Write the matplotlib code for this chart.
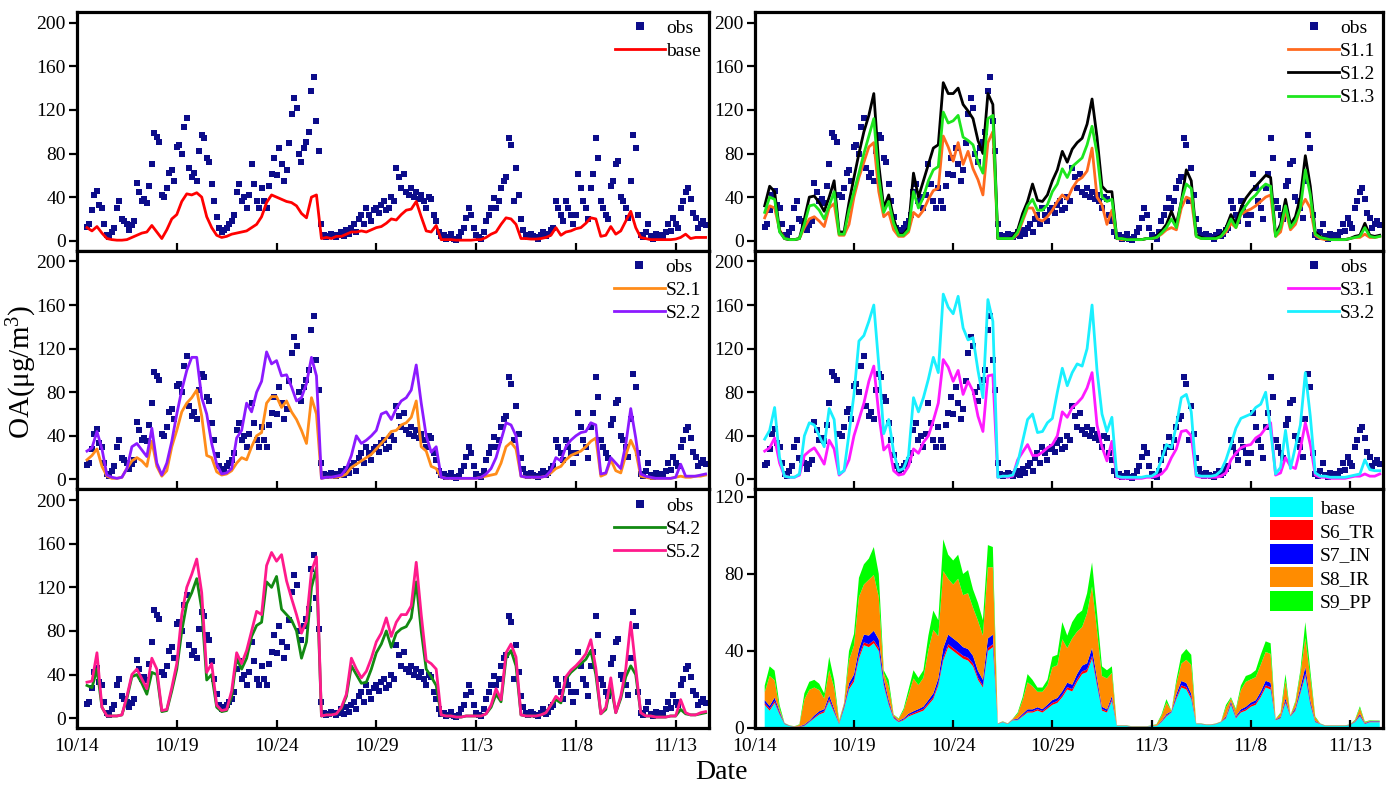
import numpy as np
import pandas as pd
import matplotlib
matplotlib.use('Agg')
import matplotlib.pyplot as plt
from matplotlib.lines import Line2D

plt.rcParams['font.family'] = ['Liberation Serif', 'DejaVu Serif']
plt.rcParams['mathtext.fontset'] = 'custom'
plt.rcParams['mathtext.rm'] = 'Liberation Serif'
plt.rcParams['mathtext.it'] = 'Liberation Serif:italic'

# ---------------- data ----------------
line_start = '2018-10-14 12:00'   # 6-hourly model output
obs_start = '2018-10-14 12:00'    # 3-hourly observations
x_start, x_end = '2018-10-14 00:00', '2018-11-14 16:00'
tick_dates = ['2018-10-14', '2018-10-19', '2018-10-24', '2018-10-29',
              '2018-11-03', '2018-11-08', '2018-11-13']
tick_labels = ['10/14', '10/19', '10/24', '10/29', '11/3', '11/8', '11/13']

obs = [13, 15, 28, 42,
       46, 33, 30, 15, 5, 3, 8, 12,
       30, 36, 20, 18, 15, 10, 14, 18,
       53, 45, 36, 38, 35, 50, 70, 99,
       95, 91, 42, 40, 48, 62, 65, 55,
       86, 88, 80, 104, 113, 67, 58, 62,
       55, 82, 97, 94, 76, 72, 52, 36,
       22, 12, 8, 10, 12, 15, 18, 24,
       45, 52, 36, 40, 30, 42, 70, 52,
       36, 30, 48, 36, 30, 50, 61, 76,
       60, 85, 70, 55, 65, 90, 116, 131,
       122, 80, 72, 85, 91, 100, 137, 150,
       110, 82, 15, 5, 3, 4, 6, 5,
       3, 5, 8, 4, 10, 6, 12, 15,
       8, 20, 24, 15, 30, 24, 18, 28,
       30, 25, 33, 36, 28, 30, 40, 36,
       67, 58, 48, 61, 45, 42, 48, 40,
       45, 38, 42, 36, 30, 40, 38, 24,
       18, 8, 4, 5, 2, 3, 6, 2,
       1, 3, 8, 12, 21, 30, 24, 12,
       5, 3, 2, 8, 18, 24, 30, 39,
       30, 36, 48, 55, 58, 94, 88, 36,
       67, 42, 20, 10, 5, 3, 6, 4,
       3, 2, 5, 8, 4, 6, 10, 12,
       36, 30, 24, 18, 36, 30, 24, 15,
       24, 61, 48, 36, 30, 20, 48, 61,
       94, 76, 36, 30, 24, 20, 50, 55,
       70, 73, 40, 36, 30, 21, 55, 97,
       85, 24, 5, 3, 8, 15, 4, 2,
       6, 3, 5, 4, 8, 15, 9, 21,
       15, 12, 30, 36, 45, 48, 38, 25,
       21, 12, 15, 18, 14]

base = [12, 9,
        13, 7, 2, 1,
        0.5, 0.5, 1, 3,
        5, 7, 8, 14,
        8, 2, 10, 20,
        24, 36, 43, 42,
        44, 40, 22, 12,
        5, 3, 4, 6,
        7, 8, 9, 12,
        15, 22, 35, 42,
        40, 38, 36, 35,
        32, 25, 21, 40,
        42, 2, 3, 2,
        4, 4, 6, 8,
        8, 9, 8, 10,
        12, 13, 16, 20,
        19, 24, 28, 29,
        36, 22, 9, 8,
        14, 1, 1, 1,
        0.5, 0.5, 0.5, 0.5,
        1, 1, 3, 6,
        8, 15, 21, 20,
        15, 2, 2, 1.5,
        1.5, 2, 3, 5,
        12, 5, 8, 9,
        11, 12, 16, 21,
        20, 4, 5, 13,
        6, 9, 18, 27,
        12, 3, 2, 1,
        1, 1, 1, 1,
        1.5, 3, 6, 2,
        3, 3, 3]

s1_1 = [21, 32,
        30, 10, 2, 1,
        1, 2, 12, 20,
        22, 18, 13, 30,
        34, 5, 5, 15,
        40, 58, 72, 86,
        90, 45, 22, 26,
        10, 4, 4, 8,
        26, 22, 28, 38,
        46, 48, 96, 86,
        73, 90, 70, 82,
        66, 56, 42, 90,
        100, 2, 2, 2,
        2, 6, 18, 30,
        30, 20, 18, 22,
        28, 36, 42, 38,
        48, 55, 58, 64,
        85, 40, 33, 15,
        28, 2, 1, 1,
        1, 1, 1, 2,
        2, 3, 6, 10,
        12, 10, 30, 40,
        38, 4, 2, 2,
        2, 2, 4, 8,
        16, 12, 24, 27,
        29, 32, 36, 40,
        42, 4, 8, 28,
        10, 15, 30, 38,
        30, 5, 2, 1,
        1, 1, 1, 1,
        2, 3, 3, 6,
        3, 3, 4]

s1_2 = [32, 50,
        45, 9, 2, 1,
        1, 2, 20, 40,
        41, 35, 27, 40,
        55, 8, 8, 35,
        58, 80, 100, 115,
        135, 70, 30, 42,
        20, 6, 6, 12,
        62, 40, 55, 70,
        85, 88, 145, 135,
        135, 140, 125, 119,
        112, 92, 80, 135,
        125, 2, 2, 2,
        3, 10, 25, 36,
        52, 37, 36, 42,
        55, 65, 82, 72,
        84, 90, 94, 107,
        130, 95, 50, 45,
        45, 2, 2, 1,
        1, 1, 1, 2,
        2, 4, 9, 15,
        27, 15, 36, 65,
        55, 5, 3, 2,
        2, 3, 5, 12,
        24, 15, 30, 39,
        45, 50, 55, 60,
        58, 5, 15, 38,
        15, 22, 40, 78,
        50, 8, 4, 2,
        1, 1, 1, 1,
        2, 4, 5, 16,
        5, 4, 5]

s1_3 = [26, 40,
        38, 8, 2, 1,
        1, 2, 15, 32,
        33, 28, 20, 32,
        45, 6, 6, 28,
        45, 62, 80, 96,
        112, 58, 26, 36,
        16, 5, 5, 10,
        45, 30, 40, 55,
        65, 68, 118, 108,
        110, 115, 95, 92,
        88, 72, 62, 112,
        115, 2, 2, 2,
        2, 8, 20, 32,
        38, 28, 28, 33,
        45, 52, 66, 58,
        68, 72, 76, 88,
        105, 80, 40, 36,
        38, 2, 2, 1,
        1, 1, 1, 2,
        2, 3, 7, 12,
        20, 12, 36, 52,
        48, 4, 2, 2,
        2, 2, 4, 10,
        20, 12, 25, 32,
        38, 42, 48, 52,
        50, 4, 12, 32,
        12, 18, 30, 65,
        42, 6, 3, 2,
        1, 1, 1, 1,
        2, 3, 4, 12,
        4, 3, 4]

s2_1 = [18, 22,
        28, 12, 3, 1,
        1, 2, 10, 17,
        20, 17, 12, 35,
        12, 3, 8, 30,
        45, 62, 70, 75,
        82, 58, 22, 20,
        7, 4, 5, 8,
        15, 20, 18, 30,
        40, 43, 70, 76,
        76, 66, 72, 62,
        55, 45, 33, 75,
        60, 1, 2, 2,
        2, 3, 5, 11,
        14, 17, 20, 23,
        28, 33, 38, 44,
        45, 50, 52, 57,
        72, 30, 26, 12,
        10, 2, 1, 1,
        1, 1, 1, 1,
        1, 2, 3, 4,
        5, 15, 30, 34,
        28, 3, 2, 2,
        2, 2, 3, 6,
        10, 12, 18, 22,
        24, 26, 30, 35,
        38, 3, 5, 18,
        8, 6, 22, 36,
        26, 3, 2, 1,
        1, 1, 1, 1,
        2, 3, 2, 2,
        3, 3, 4]

s2_2 = [26, 29,
        44, 28, 4, 2,
        1, 2, 10, 30,
        33, 27, 21, 47,
        15, 4, 15, 35,
        60, 82, 100, 112,
        112, 75, 60, 33,
        14, 5, 6, 10,
        38, 45, 70, 62,
        80, 90, 117, 106,
        109, 95, 96, 85,
        72, 75, 88, 112,
        95, 1, 2, 2,
        3, 4, 10, 22,
        40, 33, 36, 40,
        45, 60, 62, 55,
        65, 72, 75, 82,
        105, 70, 40, 25,
        30, 2, 1, 1,
        1, 1, 1, 1,
        1, 2, 5, 10,
        20, 36, 52, 50,
        40, 3, 2, 2,
        2, 2, 3, 8,
        20, 17, 30, 36,
        40, 43, 44, 52,
        50, 5, 6, 20,
        15, 10, 32, 65,
        38, 5, 3, 2,
        1, 1, 1, 1,
        2, 14, 3, 3,
        3, 4, 5]

s3_1 = [26, 29,
        38, 15, 3, 2,
        2, 4, 22, 26,
        29, 22, 14, 36,
        28, 4, 8, 18,
        40, 55, 70, 90,
        104, 60, 27, 32,
        8, 4, 5, 12,
        28, 24, 34, 40,
        54, 70, 110, 103,
        90, 100, 78, 90,
        81, 58, 44, 95,
        96, 2, 3, 2,
        3, 18, 25, 32,
        22, 22, 25, 29,
        32, 40, 62, 57,
        66, 70, 75, 84,
        98, 50, 30, 17,
        35, 2, 1, 1,
        1, 1, 1, 2,
        2, 3, 5, 10,
        20, 28, 44, 45,
        40, 3, 2, 2,
        2, 2, 3, 6,
        18, 24, 29, 31,
        32, 38, 41, 47,
        52, 4, 6, 20,
        12, 10, 28, 52,
        32, 4, 2, 2,
        1, 1, 1, 1,
        2, 3, 3, 5,
        3, 3, 5]

s3_2 = [37, 45,
        66, 20, 3, 2,
        2, 5, 40, 52,
        50, 40, 30, 65,
        55, 5, 8, 42,
        78, 127, 132, 145,
        160, 105, 42, 55,
        25, 8, 10, 22,
        75, 62, 75, 92,
        112, 98, 170, 158,
        152, 168, 139, 128,
        130, 100, 75, 165,
        145, 2, 3, 3,
        4, 15, 35, 55,
        60, 43, 44, 52,
        56, 80, 102, 86,
        98, 106, 104, 120,
        160, 100, 60, 44,
        57, 3, 2, 2,
        2, 2, 2, 3,
        3, 6, 18, 32,
        29, 50, 75, 78,
        62, 4, 3, 3,
        3, 4, 8, 18,
        32, 47, 56, 58,
        60, 66, 69, 80,
        45, 5, 11, 45,
        10, 30, 50, 98,
        58, 6, 3, 3,
        2, 2, 2, 2,
        3, 4, 5, 18,
        9, 8, 8]

s4_2 = [30, 28,
        45, 10, 2, 2,
        2, 3, 18, 38,
        40, 32, 22, 42,
        40, 6, 7, 25,
        45, 80, 105, 115,
        128, 100, 35, 40,
        10, 6, 7, 20,
        55, 45, 55, 75,
        85, 88, 125, 120,
        130, 100, 95, 90,
        80, 55, 70, 120,
        138, 2, 3, 3,
        4, 9, 20, 48,
        40, 32, 33, 45,
        60, 68, 80, 65,
        78, 82, 84, 92,
        125, 80, 45, 38,
        30, 3, 2, 2,
        1, 1, 2, 2,
        2, 2, 4, 10,
        22, 15, 55, 62,
        48, 3, 2, 2,
        2, 3, 5, 12,
        17, 14, 36, 42,
        46, 50, 54, 62,
        40, 4, 8, 30,
        5, 18, 38, 48,
        40, 5, 2, 2,
        1, 1, 1, 2,
        2, 8, 4, 3,
        3, 4, 5]

s5_2 = [33, 34,
        60, 10, 2, 2,
        2, 3, 20, 40,
        45, 36, 27, 55,
        45, 7, 8, 28,
        50, 95, 120, 132,
        146, 115, 42, 50,
        12, 7, 8, 25,
        60, 50, 62, 80,
        98, 95, 140, 152,
        144, 150, 126, 110,
        95, 78, 89, 135,
        148, 2, 3, 3,
        4, 10, 22, 55,
        45, 37, 43, 55,
        70, 78, 92, 75,
        88, 95, 95, 103,
        143, 95, 53, 50,
        45, 3, 2, 2,
        1, 1, 2, 2,
        2, 2, 4, 12,
        27, 17, 60, 68,
        56, 3, 2, 2,
        2, 3, 5, 12,
        20, 16, 38, 44,
        48, 53, 59, 72,
        46, 4, 10, 37,
        5, 20, 45, 88,
        46, 5, 2, 2,
        1, 1, 1, 2,
        2, 17, 5, 3,
        3, 5, 6]

# stacked contributions (bottom-right panel), added on top of base
s6_tr = [1, 1,
         1, 0.7, 0.2, 0.1,
         0.1, 0.1, 0.3, 0.3,
         0.5, 0.7, 0.8, 1,
         0.8, 0.2, 0.8, 1.2,
         1.3, 1.5, 1.5, 1.5,
         1.5, 1.5, 1, 1,
         0.5, 0.3, 0.4, 0.6,
         0.7, 0.8, 0.9, 1,
         1, 1.2, 1.5, 1.5,
         1.5, 1.5, 1.5, 1.5,
         1.5, 1.2, 1, 1.5,
         1.5, 0.1, 0.1, 0.1,
         0.2, 0.3, 0.5, 0.7,
         0.7, 0.8, 0.8, 0.9,
         1, 1, 1.1, 1.2,
         1.2, 1.3, 1.4, 1.4,
         1.5, 1.2, 0.8, 0.7,
         1, 0.1, 0.1, 0.1,
         0.1, 0.1, 0.1, 0.1,
         0.1, 0.1, 0.3, 0.5,
         0.3, 1, 1.2, 1.2,
         1, 0.1, 0.1, 0.1,
         0.1, 0.1, 0.1, 0.5,
         0.8, 0.5, 0.7, 0.8,
         0.9, 1, 1, 1.2,
         1.2, 0.2, 0.3, 0.9,
         0.2, 0.6, 1, 1.2,
         0.9, 0.3, 0.1, 0.1,
         0.1, 0.1, 0.1, 0.1,
         0.1, 0.2, 0.5, 0.2,
         0.2, 0.2, 0.2]

s7_in = [1.5, 1.5,
         1.8, 1, 0.2, 0.1,
         0.1, 0.2, 0.5, 0.5,
         1, 1, 1, 2,
         1.2, 0.3, 1, 2,
         2.5, 3.5, 4, 4.5,
         5, 4.5, 2.5, 1.5,
         0.5, 0.4, 0.6, 0.8,
         1, 1, 1.2, 1.5,
         2, 2.5, 5, 5,
         5, 5, 4.5, 4.5,
         4, 3.5, 3, 5,
         5, 0.1, 0.1, 0.1,
         0.2, 0.5, 0.8, 1,
         1, 1, 1, 1.2,
         1.5, 1.6, 2, 2.3,
         2.3, 2.8, 3, 3.2,
         4, 2.5, 1.2, 1,
         1.6, 0.1, 0.1, 0.1,
         0.1, 0.1, 0.1, 0.1,
         0.1, 0.1, 0.4, 0.7,
         0.4, 1.6, 2.2, 2.2,
         1.8, 0.1, 0.1, 0.1,
         0.1, 0.1, 0.1, 0.6,
         1, 0.6, 1, 1.2,
         1.3, 1.4, 1.8, 2.3,
         2.3, 0.2, 0.5, 1.5,
         0.2, 0.9, 2, 3.5,
         1.5, 0.4, 0.1, 0.1,
         0.1, 0.1, 0.1, 0.1,
         0.1, 0.3, 0.8, 0.3,
         0.3, 0.3, 0.3]

s8_ir = [4, 15.5,
         9, 1.3, 0.1, 0.1,
         0.1, 0.8, 13, 16,
         14.5, 11, 5.5, 13,
         11, 1, 1, 12,
         15, 27, 26, 29,
         29, 22, 3, 7,
         0.8, 1, 4, 10,
         17, 12.5, 15, 26,
         33, 22, 40, 29,
         28, 33, 27, 29,
         25, 26, 23, 37,
         35, 0.1, 0.2, 0.1,
         0.3, 2.5, 7, 14,
         12, 8, 9, 10,
         17, 17, 27, 18,
         24, 22, 20, 26,
         32, 25, 16, 16,
         12, 0.1, 0.1, 0.1,
         0.1, 0.1, 0.1, 0.1,
         0.1, 0.6, 2.5, 6,
         0.2, 5.5, 9, 12,
         15, 0.1, 0.1, 0.1,
         0.1, 0.1, 0.1, 4.5,
         1.5, 3.2, 10, 13,
         12, 12, 14, 15,
         15, 0.2, 1.7, 9,
         0.2, 2.7, 7, 15,
         12, 1.8, 0.1, 0.1,
         0.1, 0.1, 0.1, 0.1,
         0.1, 0.5, 3, 0.5,
         0.3, 0.2, 0.2]

s9_pp = [3.5, 5,
         5, 2, 0.1, 0.1,
         0.1, 0.3, 3.2, 4.2,
         4, 3.3, 2.7, 7,
         4, 0.5, 0.2, 4.8,
         6, 10, 10.5, 11,
         14.5, 12, 1.5, 3.5,
         0.2, 0.3, 1, 2.6,
         4.3, 3.7, 3.9, 7.5,
         10, 8.3, 16.5, 12.5,
         12.5, 12.5, 11, 12,
         9.5, 9.3, 8, 11.5,
         10.5, 0.1, 0.1, 0.1,
         0.1, 0.7, 1.7, 4.3,
         3.3, 2.2, 2.2, 2.9,
         5.5, 5.4, 8.9, 6.5,
         8.5, 8.9, 8.6, 10.4,
         12.5, 9.3, 5, 4.3,
         3.4, 0.1, 0.1, 0.1,
         0.1, 0.1, 0.1, 0.1,
         0.1, 0.2, 0.8, 1.8,
         0.1, 1.9, 4.6, 5.6,
         5.2, 0.1, 0.1, 0.1,
         0.1, 0.1, 0.1, 1.4,
         0.7, 0.7, 2.3, 3,
         2.8, 3.6, 5.2, 5.5,
         5.5, 0.1, 0.5, 3.6,
         0.1, 0.8, 2, 8.3,
         3.6, 0.5, 0.1, 0.1,
         0.1, 0.1, 0.1, 0.1,
         0.1, 0.3, 1, 0.3,
         0.2, 0.2, 0.2]

t_line = pd.date_range(line_start, periods=len(base), freq='6h')
t_obs = pd.date_range(obs_start, periods=len(obs), freq='3h')

# ---------------- styling ----------------
OBS_C = '#0c0c8a'
FS = 14
fig = plt.figure(figsize=(13.9, 7.87), dpi=100)

L0, L1 = 0.0554, 0.510
R0, R1 = 0.543, 0.995
TOP, BOT = 0.985, 0.075
H = (TOP - BOT) / 3


def make_ax(row, col):
    x0, x1 = (L0, L1) if col == 0 else (R0, R1)
    return fig.add_axes([x0, TOP - (row + 1) * H, x1 - x0, H])


def style(ax, ylim, yticks, xlabels):
    ax.set_xlim(pd.Timestamp(x_start), pd.Timestamp(x_end))
    ax.set_ylim(*ylim)
    ax.set_yticks(yticks)
    ax.set_xticks(pd.to_datetime(tick_dates))
    ax.set_xticklabels(tick_labels if xlabels else [])
    ax.tick_params(axis='x', direction='in', length=6, width=1.6,
                   labelsize=FS, pad=7)
    ax.tick_params(axis='y', direction='out', length=6, width=1.6,
                   labelsize=FS, pad=2)
    ax.minorticks_off()
    for s in ax.spines.values():
        s.set_linewidth(2.3)


def line_panel(ax, series, xlabels):
    ax.plot(t_obs, obs, linestyle='none', marker='s', markersize=5.0,
            color=OBS_C, markeredgewidth=0, zorder=2)
    handles = [Line2D([], [], linestyle='none', marker='s', markersize=5.5,
                      color=OBS_C, markeredgewidth=0)]
    labels = ['obs']
    for vals, col, lab in series:
        h, = ax.plot(t_line, vals, color=col, lw=2.0, zorder=3)
        handles.append(h)
        labels.append(lab)
    style(ax, (-9, 210), [0, 40, 80, 120, 160, 200], xlabels)
    ax.legend(handles, labels, loc='upper right', frameon=False,
              fontsize=FS, handlelength=2.6, handletextpad=0.05,
              labelspacing=0.28, borderaxespad=0.25, borderpad=0.15)


ax = make_ax(0, 0)
line_panel(ax, [(base, '#ff0000', 'base')], False)

ax = make_ax(0, 1)
line_panel(ax, [(s1_1, '#ff6a1f', 'S1.1'), (s1_2, '#000000', 'S1.2'),
                (s1_3, '#1ee61e', 'S1.3')], False)

ax = make_ax(1, 0)
line_panel(ax, [(s2_1, '#ff8c1a', 'S2.1'), (s2_2, '#8c1aff', 'S2.2')], False)

ax = make_ax(1, 1)
line_panel(ax, [(s3_1, '#ff1aff', 'S3.1'), (s3_2, '#1af0ff', 'S3.2')], False)

ax = make_ax(2, 0)
line_panel(ax, [(s4_2, '#128a12', 'S4.2'), (s5_2, '#ff1a8c', 'S5.2')], True)

ax = make_ax(2, 1)
ax.stackplot(t_line, base, s6_tr, s7_in, s8_ir, s9_pp,
             colors=['#00ffff', '#ff0000', '#0000ff', '#ff8c00', '#00ff00'],
             labels=['base', 'S6_TR', 'S7_IN', 'S8_IR', 'S9_PP'], lw=0)
style(ax, (0, 124), [0, 40, 80, 120], True)
ax.legend(loc='upper right', frameon=False, fontsize=FS, handlelength=2.2,
          handleheight=1.2, handletextpad=0.35, labelspacing=0.15,
          borderaxespad=0.2, borderpad=0.2)

fig.text(0.016, 0.527, 'OA(μg/m$^3$)', rotation=90, ha='center',
         va='center', fontsize=21)
fig.text(0.519, 0.018, 'Date', ha='center', va='center', fontsize=20)

fig.savefig('out.png', dpi=100)
